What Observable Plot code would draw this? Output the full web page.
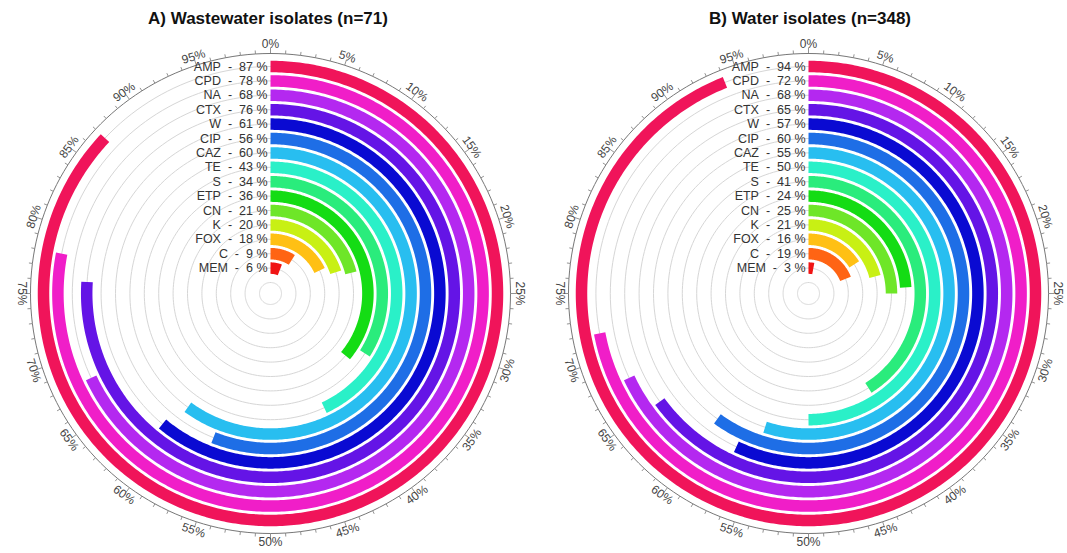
<!DOCTYPE html>
<html><head><meta charset="utf-8">
<script src="https://cdn.jsdelivr.net/npm/d3@7"></script>
<script src="https://cdn.jsdelivr.net/npm/@observablehq/plot@0.6"></script>
<style>
body{margin:0;background:#fff;font-family:"Liberation Sans",Arial,sans-serif;}
#wrap{position:relative;width:1067px;height:553px;overflow:hidden;background:#fff;}
.title{position:absolute;top:9px;font-weight:bold;font-size:17px;color:#111;text-align:center;font-family:"Liberation Sans",Arial,sans-serif;}
.panel{position:absolute;top:35px;}
</style></head><body><div id="wrap">
<div class="title" style="left:0;width:536px">A) Wastewater isolates (n=71)</div>
<div class="title" style="left:545px;width:530px">B) Water isolates (n=348)</div>
<div class="panel" id="pa" style="left:0"></div>
<div class="panel" id="pb" style="left:533px"></div>
</div>
<script>
const antibiotics = ["AMP","CPD","NA","CTX","W","CIP","CAZ","TE","S","ETP","CN","K","FOX","C","MEM"];
const wastewaterPct = [87,78,68,76,61,56,60,43,34,36,21,20,18,9,6];
const waterPct = [94,72,68,65,57,60,55,50,41,24,25,21,16,19,3];
const ringColors = ["#f0145a","#f01ec8","#b428f0","#6414e6","#0a0ad2","#1e6ee6","#28bef0","#2af0c8","#2aec7c","#14dc14","#6ee628","#c8f014","#ffc014","#ff6414","#f01414"];
const angleTickLabels = d3.range(0, 100, 5);
const minorTicks = d3.range(0, 100, 1);

function makeChart(values, cx, width) {
  const H = 518, cy = 258;
  const angle = d3.scaleLinear([0, 100], [0, 2 * Math.PI]);
  const ring = d3.scaleLinear([0, 14], [227, 25.4]);
  const polar = (r, p) => ({x: r * Math.sin(angle(p)), y: r * Math.cos(angle(p))});

  const barPts = [];
  antibiotics.forEach((name, i) => {
    const v = values[i];
    const steps = d3.range(0, v, 0.2).concat([v]);
    steps.forEach(p => barPts.push({name, color: ringColors[i], ...polar(ring(i), p)}));
  });
  const gridPts = [];
  d3.range(0, 16).forEach(i => {
    d3.range(0, 100.5, 0.5).forEach(p => gridPts.push({ring: i, ...polar(ring(i), p)}));
  });
  const axisPts = d3.range(0, 100.5, 0.5).map(p => polar(240, p));
  const ticks = minorTicks.map(p => {
    const a = polar(240, p), b = polar(p % 5 === 0 ? 246 : 243.5, p);
    return {x1: a.x, y1: a.y, x2: b.x, y2: b.y};
  });
  const tickLabels = angleTickLabels.map(p => {
    const deg = p * 3.6;
    let rot = deg;
    if (deg > 90 && deg <= 270) rot = deg - 180;
    else if (deg > 270) rot = deg - 360;
    return {label: p + "%", rot, ...polar(249, p)};
  });
  const catLabels = antibiotics.map((name, i) => ({
    label: name + "\u00a0\u00a0-\u00a0\u00a0" + values[i] + " %", x: -3, y: ring(i)
  }));

  return Plot.plot({
    width, height: H, margin: 0,
    style: {fontFamily: "'Liberation Sans', Arial, sans-serif", background: "#fff"},
    x: {domain: [-cx, width - cx], axis: null},
    y: {domain: [-(H - cy), cy], axis: null},
    color: {type: "identity"},
    marks: [
      Plot.line(gridPts, {x: "x", y: "y", z: "ring", stroke: "#d6d6d6", strokeWidth: 1}),
      Plot.line(barPts, {x: "x", y: "y", z: "name", stroke: "color", strokeWidth: 11.5, strokeLinecap: "butt", strokeLinejoin: "round"}),
      Plot.line(axisPts, {x: "x", y: "y", stroke: "#777", strokeWidth: 1}),
      Plot.link(ticks, {x1: "x1", y1: "y1", x2: "x2", y2: "y2", stroke: "#777", strokeWidth: 0.8}),
      Plot.text(tickLabels, {x: "x", y: "y", text: "label", rotate: "rot", fontSize: 12, fill: "#444"}),
      Plot.text(catLabels, {x: "x", y: "y", text: "label", textAnchor: "end", fontSize: 12.5, fill: "#333"})
    ]
  });
}

document.getElementById("pa").appendChild(makeChart(wastewaterPct, 270, 533));
document.getElementById("pb").appendChild(makeChart(waterPct, 275, 534));
</script>
</body></html>
